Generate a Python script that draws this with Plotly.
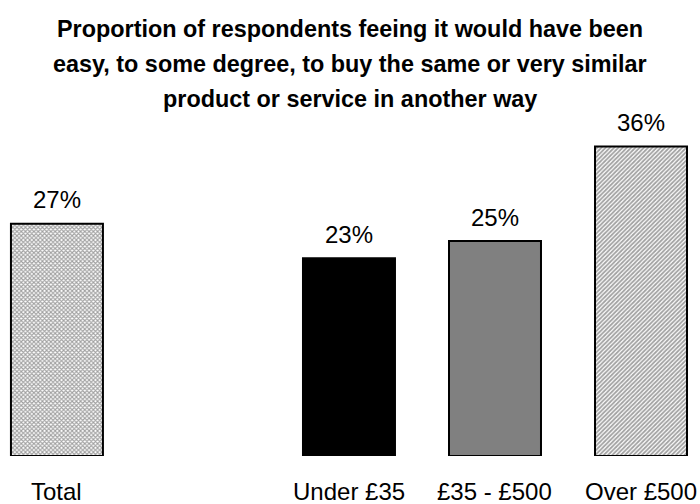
import plotly.graph_objects as go

# Data
categories = ["Total", "Under £35", "£35 - £500", "Over £500"]
values = [27, 23, 25, 36]
positions = [0, 2, 3, 4]  # gap slot between Total and the price bands
title_lines = [
    "Proportion of respondents feeing it would have been",
    "easy, to some degree, to buy the same or very similar",
    "product or service in another way",
]

FONT = "Liberation Sans, Arial, sans-serif"
SIZE = 24
TITLE_SIZE = 23.4

fig = go.Figure()
fig.add_trace(go.Bar(
    x=positions,
    y=values,
    width=0.63,
    marker=dict(
        color=["white", "black", "#808080", "white"],
        line=dict(color="black", width=2),
        pattern=dict(
            shape=["x", "", "", "/"],
            fgcolor=["black", "black", "black", "black"],
            bgcolor=["white", "black", "#808080", "white"],
            size=[3, 8, 8, 3],
            solidity=[0.6, 0.3, 0.3, 0.6],
        ),
    ),
    hoverinfo="skip",
))

annotations = []
# value labels above each bar
for p, v in zip(positions, values):
    annotations.append(dict(
        x=p, y=v, xref="x", yref="y", text=f"{v}%", showarrow=False,
        yanchor="middle", yshift=24, font=dict(family=FONT, size=SIZE, color="black"),
    ))
# category labels below the axis
for p, c in zip(positions, categories):
    annotations.append(dict(
        x=p, y=0, xref="x", yref="y", text=c, showarrow=False,
        yanchor="middle", yshift=-35, font=dict(family=FONT, size=SIZE, color="black"),
    ))
# title, one annotation per line
for i, line in enumerate(title_lines):
    annotations.append(dict(
        x=0.5, xref="paper", y=1, yref="paper", text=f"<b>{line}</b>",
        showarrow=False, yanchor="middle", xanchor="center",
        yshift=(100 - 29) - 35 * i,
        font=dict(family=FONT, size=TITLE_SIZE, color="black"),
    ))

fig.update_layout(
    width=700, height=504,
    margin=dict(l=0, r=0, t=100, b=48, pad=0),
    paper_bgcolor="white", plot_bgcolor="white",
    showlegend=False,
    annotations=annotations,
    xaxis=dict(range=[-0.39, 4.404], visible=False, fixedrange=True),
    yaxis=dict(range=[0, 41.4], visible=False, fixedrange=True),
)

fig.write_html("out.html")
